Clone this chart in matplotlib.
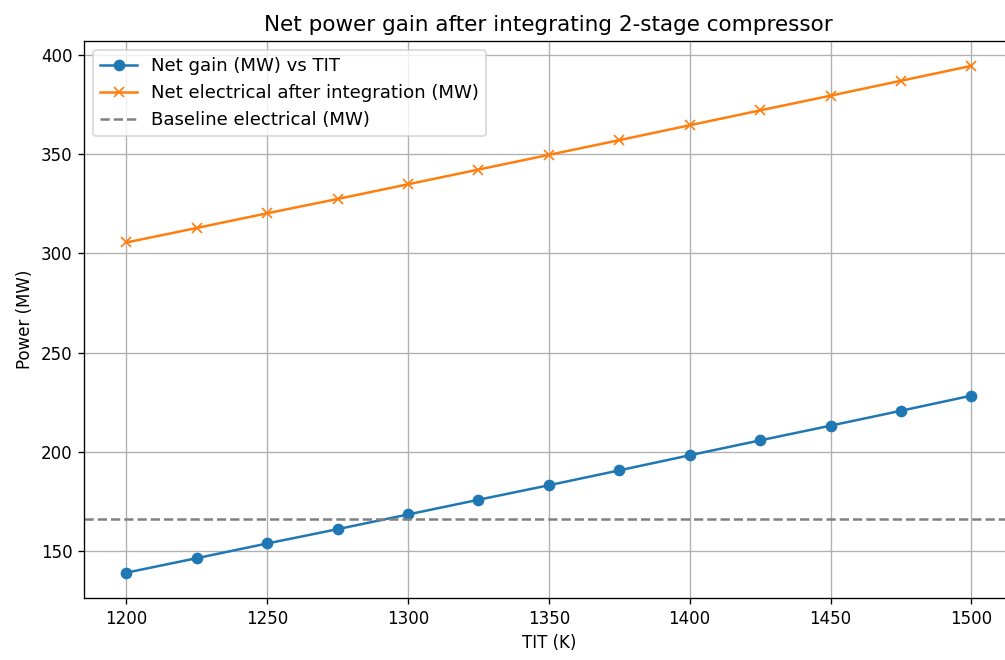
import numpy as np
import matplotlib.pyplot as plt

# Turbine inlet temperature (K)
tit = [1200, 1225, 1250, 1275, 1300, 1325, 1350, 1375, 1400, 1425, 1450, 1475, 1500]

# Net gain (MW)
net_gain = [139.3, 146.6, 154.0, 161.2, 168.6, 176.0, 183.3, 190.8, 198.4, 205.9, 213.3, 220.8, 228.4]

# Net electrical after integration (MW)
net_elec = [305.5, 312.8, 320.2, 327.4, 334.8, 342.2, 349.6, 357.0, 364.5, 372.0, 379.4, 386.9, 394.4]

baseline = 166.2

fig = plt.figure(figsize=(1005/120, 660/120), dpi=120)
ax = fig.add_axes([0.0836, 0.0939, 0.925, 0.8447])

ax.plot(tit, net_gain, marker='o', label='Net gain (MW) vs TIT')
ax.plot(tit, net_elec, marker='x', label='Net electrical after integration (MW)')
ax.axhline(baseline, color='gray', linestyle='--', label='Baseline electrical (MW)')

ax.set_title('Net power gain after integrating 2-stage compressor', fontsize=12.9)
ax.set_xlabel('TIT (K)')
ax.set_ylabel('Power (MW)')
ax.set_yticks([150, 200, 250, 300, 350, 400])
ax.legend(loc='upper left', fontsize=10.9)
ax.grid(True)

fig.savefig('out.png', dpi=120)
